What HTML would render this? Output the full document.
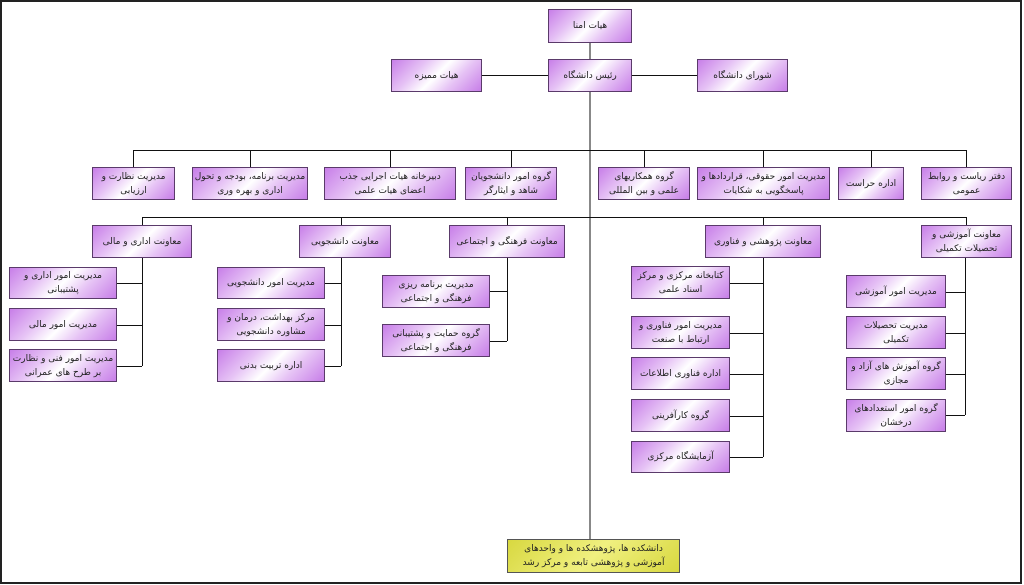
<!DOCTYPE html>
<html><head><meta charset="utf-8"><style>
html,body{margin:0;padding:0;background:#fff;}
#c{position:relative;width:1024px;height:585px;overflow:hidden;background:#fff;}
.b{position:absolute;box-sizing:border-box;border:1px solid #5a3a6a;
background:linear-gradient(135deg,#c77ee8 0%,#e6c3f5 30%,#ffffff 50%,#e6c3f5 70%,#c77ee8 100%);
display:flex;align-items:center;justify-content:center;text-align:center;direction:rtl;
font-family:"DejaVu Sans","Liberation Sans",sans-serif;font-size:9px;line-height:14px;color:#222;padding:0 1px;white-space:normal;}
.y{background:linear-gradient(135deg,#d8d840 0%,#f0f080 50%,#d8d840 100%);border-color:#555;}
svg{position:absolute;left:0;top:0;}
</style></head><body><div id="c">
<svg width="1024" height="585" stroke="#111" stroke-width="1" fill="none">
<rect x="1" y="1" width="1020" height="582" stroke="#222" stroke-width="2"/>
<line x1="590" y1="43" x2="590" y2="59"/>
<line x1="482" y1="75.5" x2="548" y2="75.5"/>
<line x1="632" y1="75.5" x2="697" y2="75.5"/>
<line x1="590" y1="92" x2="590" y2="539"/>
<line x1="133" y1="150.5" x2="966" y2="150.5"/>
<line x1="133.5" y1="150" x2="133.5" y2="167"/>
<line x1="250.5" y1="150" x2="250.5" y2="167"/>
<line x1="390.5" y1="150" x2="390.5" y2="167"/>
<line x1="511.5" y1="150" x2="511.5" y2="167"/>
<line x1="644.5" y1="150" x2="644.5" y2="167"/>
<line x1="763.5" y1="150" x2="763.5" y2="167"/>
<line x1="871.5" y1="150" x2="871.5" y2="167"/>
<line x1="966.5" y1="150" x2="966.5" y2="167"/>
<line x1="142" y1="217.5" x2="966" y2="217.5"/>
<line x1="142.5" y1="217" x2="142.5" y2="225"/>
<line x1="341.5" y1="217" x2="341.5" y2="225"/>
<line x1="507.5" y1="217" x2="507.5" y2="225"/>
<line x1="763.5" y1="217" x2="763.5" y2="225"/>
<line x1="966.5" y1="217" x2="966.5" y2="225"/>
<line x1="142.5" y1="258" x2="142.5" y2="366"/>
<line x1="117" y1="283.5" x2="142" y2="283.5"/>
<line x1="117" y1="325.5" x2="142" y2="325.5"/>
<line x1="117" y1="366.5" x2="142" y2="366.5"/>
<line x1="341.5" y1="258" x2="341.5" y2="366"/>
<line x1="325" y1="283.5" x2="341" y2="283.5"/>
<line x1="325" y1="325.5" x2="341" y2="325.5"/>
<line x1="325" y1="366.5" x2="341" y2="366.5"/>
<line x1="507.5" y1="258" x2="507.5" y2="341"/>
<line x1="490" y1="291.5" x2="507" y2="291.5"/>
<line x1="490" y1="341.5" x2="507" y2="341.5"/>
<line x1="763.5" y1="258" x2="763.5" y2="457"/>
<line x1="730" y1="283.5" x2="763" y2="283.5"/>
<line x1="730" y1="333.5" x2="763" y2="333.5"/>
<line x1="730" y1="374.5" x2="763" y2="374.5"/>
<line x1="730" y1="416.5" x2="763" y2="416.5"/>
<line x1="730" y1="457.5" x2="763" y2="457.5"/>
<line x1="965.5" y1="258" x2="965.5" y2="415"/>
<line x1="946" y1="292.5" x2="965" y2="292.5"/>
<line x1="946" y1="333.5" x2="965" y2="333.5"/>
<line x1="946" y1="374.5" x2="965" y2="374.5"/>
<line x1="946" y1="415.5" x2="965" y2="415.5"/>
</svg>
<div class="b" style="left:548px;top:9px;width:84px;height:34px">هیات امنا</div>
<div class="b" style="left:548px;top:59px;width:84px;height:33px">رئیس دانشگاه</div>
<div class="b" style="left:391px;top:59px;width:91px;height:33px">هیات ممیزه</div>
<div class="b" style="left:697px;top:59px;width:91px;height:33px">شورای دانشگاه</div>

<div class="b" style="left:92px;top:167px;width:83px;height:33px">مدیریت نظارت و<br>ارزیابی</div>
<div class="b" style="left:192px;top:167px;width:116px;height:33px">مدیریت برنامه، بودجه و تحول<br>اداری و بهره وری</div>
<div class="b" style="left:324px;top:167px;width:132px;height:33px">دبیرخانه هیات اجرایی جذب<br>اعضای هیات علمی</div>
<div class="b" style="left:465px;top:167px;width:92px;height:33px">گروه امور دانشجویان<br>شاهد و ایثارگر</div>
<div class="b" style="left:598px;top:167px;width:92px;height:33px">گروه همکاریهای<br>علمی و بین المللی</div>
<div class="b" style="left:697px;top:167px;width:133px;height:33px">مدیریت امور حقوقی، قراردادها و<br>پاسخگویی به شکایات</div>
<div class="b" style="left:838px;top:167px;width:66px;height:33px">اداره حراست</div>
<div class="b" style="left:921px;top:167px;width:91px;height:33px">دفتر ریاست و روابط<br>عمومی</div>

<div class="b" style="left:92px;top:225px;width:100px;height:33px">معاونت اداری و مالی</div>
<div class="b" style="left:299px;top:225px;width:92px;height:33px">معاونت دانشجویی</div>
<div class="b" style="left:449px;top:225px;width:116px;height:33px">معاونت فرهنگی و اجتماعی</div>
<div class="b" style="left:705px;top:225px;width:116px;height:33px">معاونت پژوهشی و فناوری</div>
<div class="b" style="left:921px;top:225px;width:91px;height:33px">معاونت آموزشی و<br>تحصیلات تکمیلی</div>

<div class="b" style="left:9px;top:267px;width:108px;height:32px">مدیریت امور اداری و<br>پشتیبانی</div>
<div class="b" style="left:9px;top:308px;width:108px;height:33px">مدیریت امور مالی</div>
<div class="b" style="left:9px;top:349px;width:108px;height:33px">مدیریت امور فنی و نظارت<br>بر طرح های عمرانی</div>

<div class="b" style="left:217px;top:267px;width:108px;height:32px">مدیریت امور دانشجویی</div>
<div class="b" style="left:217px;top:308px;width:108px;height:33px">مرکز بهداشت، درمان و<br>مشاوره دانشجویی</div>
<div class="b" style="left:217px;top:349px;width:108px;height:33px">اداره تربیت بدنی</div>

<div class="b" style="left:382px;top:275px;width:108px;height:33px">مدیریت برنامه ریزی<br>فرهنگی و اجتماعی</div>
<div class="b" style="left:382px;top:324px;width:108px;height:33px">گروه حمایت و پشتیبانی<br>فرهنگی و اجتماعی</div>

<div class="b" style="left:631px;top:266px;width:99px;height:33px">کتابخانه مرکزی و مرکز<br>اسناد علمی</div>
<div class="b" style="left:631px;top:316px;width:99px;height:33px">مدیریت امور فناوری و<br>ارتباط با صنعت</div>
<div class="b" style="left:631px;top:357px;width:99px;height:33px">اداره فناوری اطلاعات</div>
<div class="b" style="left:631px;top:399px;width:99px;height:33px">گروه کارآفرینی</div>
<div class="b" style="left:631px;top:441px;width:99px;height:32px">آزمایشگاه مرکزی</div>

<div class="b" style="left:846px;top:275px;width:100px;height:33px">مدیریت امور آموزشی</div>
<div class="b" style="left:846px;top:316px;width:100px;height:33px">مدیریت تحصیلات<br>تکمیلی</div>
<div class="b" style="left:846px;top:357px;width:100px;height:33px">گروه آموزش های آزاد و<br>مجازی</div>
<div class="b" style="left:846px;top:399px;width:100px;height:33px">گروه امور استعدادهای<br>درخشان</div>

<div class="b y" style="left:507px;top:539px;width:173px;height:34px">دانشکده ها، پژوهشکده ها و واحدهای<br>آموزشی و پژوهشی تابعه و مرکز رشد</div>
</div></body></html>
